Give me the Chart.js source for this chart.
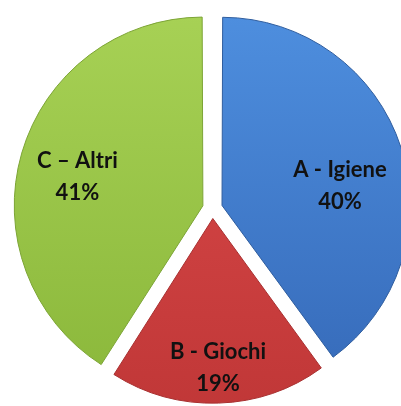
<!DOCTYPE html>
<html>
<head>
<meta charset="utf-8">
<script src="https://cdn.jsdelivr.net/npm/chart.js@4"></script>
<style>
  html, body { margin: 0; padding: 0; background: #fff; }
  #wrap { position: relative; width: 401px; height: 406px; }
</style>
</head>
<body>
<div id="wrap"><canvas id="myChart"></canvas></div>
<script>
// dati
var categorie = ['A - Igiene', 'B - Giochi', 'C \u2013 Altri'];
var valori = [40, 19, 41];
var coloriAlto = ['#4f90e0', '#dc4b4b', '#a8d256'];
var coloriBasso = ['#3569b8', '#c03737', '#8ab73a'];

// posizione delle etichette: angolo (gradi dalle 12, senso orario) e frazione del raggio
var posEtichette = [[80.5, 0.65], [178, 0.81], [283, 0.70]];

var totale = valori.reduce(function (a, b) { return a + b; }, 0);

function sfumatura(context) {
    var chart = context.chart;
    var area = chart.chartArea;
    if (!area) return coloriAlto[context.dataIndex];
    var g = chart.ctx.createLinearGradient(0, 0, 0, chart.height);
    g.addColorStop(0, coloriAlto[context.dataIndex]);
    g.addColorStop(1, coloriBasso[context.dataIndex]);
    return g;
}

var etichette = {
    id: 'etichette',
    afterDatasetsDraw: function (chart) {
        var ctx = chart.ctx;
        var meta = chart.getDatasetMeta(0);
        ctx.save();
        ctx.font = 'bold 22px Lato, "Open Sans", sans-serif';
        ctx.fillStyle = '#111';
        ctx.textAlign = 'center';
        ctx.textBaseline = 'middle';
        meta.data.forEach(function (arc, i) {
            var mezzo = (arc.startAngle + arc.endAngle) / 2;
            var off = (arc.options.offset || 0) / 4;
            var cx = arc.x + Math.cos(mezzo) * off;
            var cy = arc.y + Math.sin(mezzo) * off;
            var ang = (posEtichette[i][0] - 90) * Math.PI / 180;
            var r = arc.outerRadius * posEtichette[i][1];
            var x = cx + Math.cos(ang) * r;
            var y = cy + Math.sin(ang) * r;
            var perc = Math.round(valori[i] / totale * 100) + '%';
            ctx.fillText(categorie[i], x, y - 16);
            ctx.fillText(perc, x, y + 16);
        });
        ctx.restore();
    }
};

const ctx = document.getElementById('myChart').getContext('2d');
const myChart = new Chart(ctx, {
    type: 'pie',
    data: {
        labels: categorie,
        datasets: [{
            data: valori,
            backgroundColor: sfumatura,
            borderColor: ['#2f5d9e', '#a83030', '#7ca435'],
            borderWidth: 1,
            offset: 40,
            clip: false
        }]
    },
    options: {
        responsive: true,
        maintainAspectRatio: false,
        animation: false,
        radius: 184,
        layout: { padding: { left: 24, top: 11, right: 0, bottom: 0 } },
        plugins: {
            legend: { display: false },
            tooltip: { enabled: false }
        }
    },
    plugins: [etichette]
});
</script>
</body>
</html>
